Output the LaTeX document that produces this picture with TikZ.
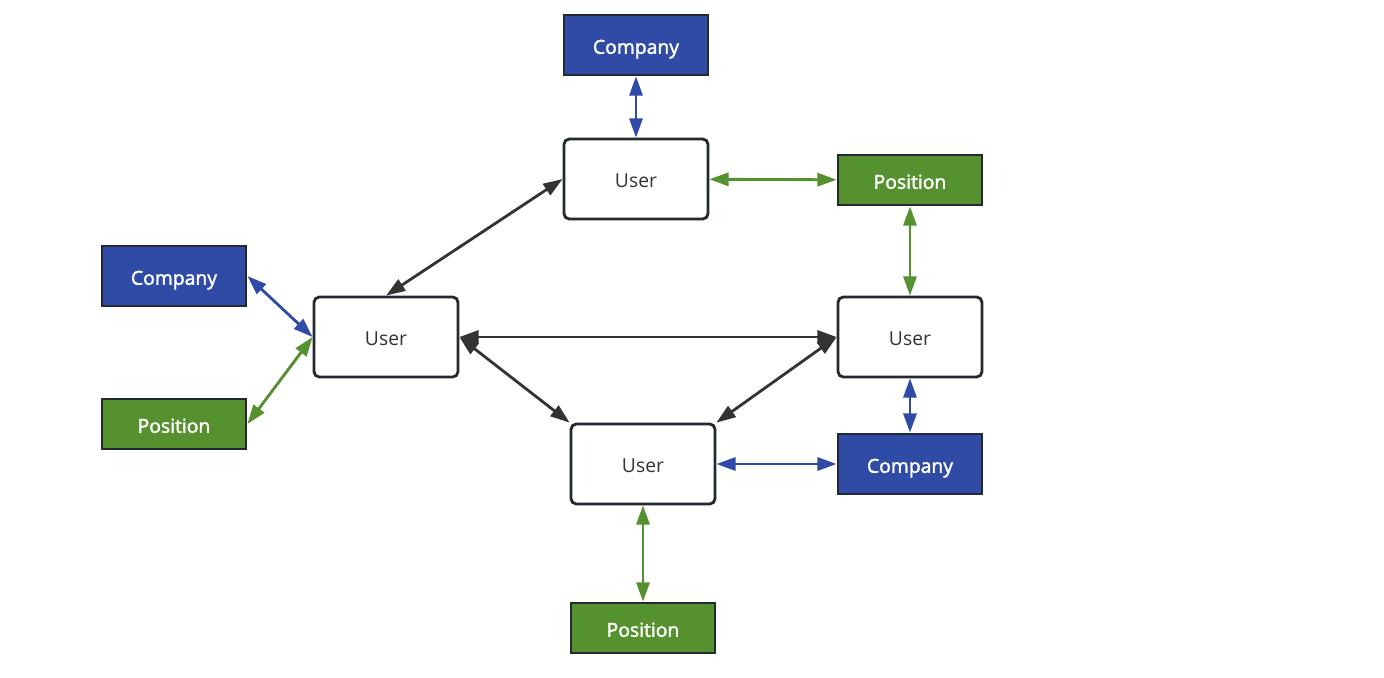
\documentclass[tikz,border=0pt]{standalone}
\usepackage{fontspec}
\setmainfont{Open Sans}
\newfontfamily\semifont[FakeBold=2]{Open Sans}
\usetikzlibrary{arrows.meta}
\definecolor{compblue}{HTML}{2F4BA5}
\definecolor{posgreen}{HTML}{55912E}
\definecolor{edgedark}{HTML}{22292F}
\definecolor{linkgray}{HTML}{333333}
\tikzstyle{user} = [draw=edgedark, line width=1.6pt, fill=white, rounded corners=3pt, minimum width=2.88cm, minimum height=1.6cm, text=linkgray, text height=1.1em, text depth=0.1em, font=\fontsize{11}{13}\selectfont]
\tikzstyle{company} = [draw=edgedark, line width=1.6pt, fill=compblue, minimum width=2.88cm, minimum height=1.2cm, text=white, text height=1.1em, text depth=0.1em, font=\fontsize{11}{13}\semifont]
\tikzstyle{position} = [draw=edgedark, line width=1.6pt, fill=posgreen, minimum width=2.88cm, minimum height=1cm, text=white, text height=1.1em, text depth=0.1em, font=\fontsize{11}{13}\semifont]
\tikzstyle{link} = [line width=1.6pt, {Triangle[length=11pt,width=7.5pt]}-{Triangle[length=11pt,width=7.5pt]}]

\begin{document}
\begin{tikzpicture}[x=0.02cm, y=-0.02cm]
                \useasboundingbox (0, 0) rectangle (1384, 677);
                \node [company] (comptop) at (636, 45) {Company};
                \node [user] (usertop) at (636, 179) {User};
                \node [position] (posright) at (910, 180) {Position};
                \node [company] (compleft) at (174, 276) {Company};
                \node [user] (userleft) at (386, 337) {User};
                \node [position] (posleft) at (174, 424) {Position};
                \node [user] (userright) at (910, 337) {User};
                \node [user] (userbottom) at (643, 464) {User};
                \node [company] (compright) at (910, 464) {Company};
                \node [position] (posbottom) at (643, 628) {Position};
                \draw [link, compblue] (comptop) -- (usertop);
                \draw [link, posgreen] (usertop) -- (posright);
                \draw [link, posgreen] (posright) -- (userright);
                \draw [link, linkgray] (usertop.west) -- (userleft.north);
                \draw [link, compblue] (compleft.east) -- (userleft.west);
                \draw [link, posgreen] (posleft.east) -- (userleft.west);
                \draw [link, linkgray] (userleft) -- (userright);
                \draw [link, linkgray] (userleft.east) -- (userbottom.north west);
                \draw [link, linkgray] (userright.west) -- (userbottom.north east);
                \draw [link, compblue] (userright) -- (compright);
                \draw [link, compblue] (userbottom) -- (compright);
                \draw [link, posgreen] (userbottom) -- (posbottom);
            \end{tikzpicture}
\end{document}
